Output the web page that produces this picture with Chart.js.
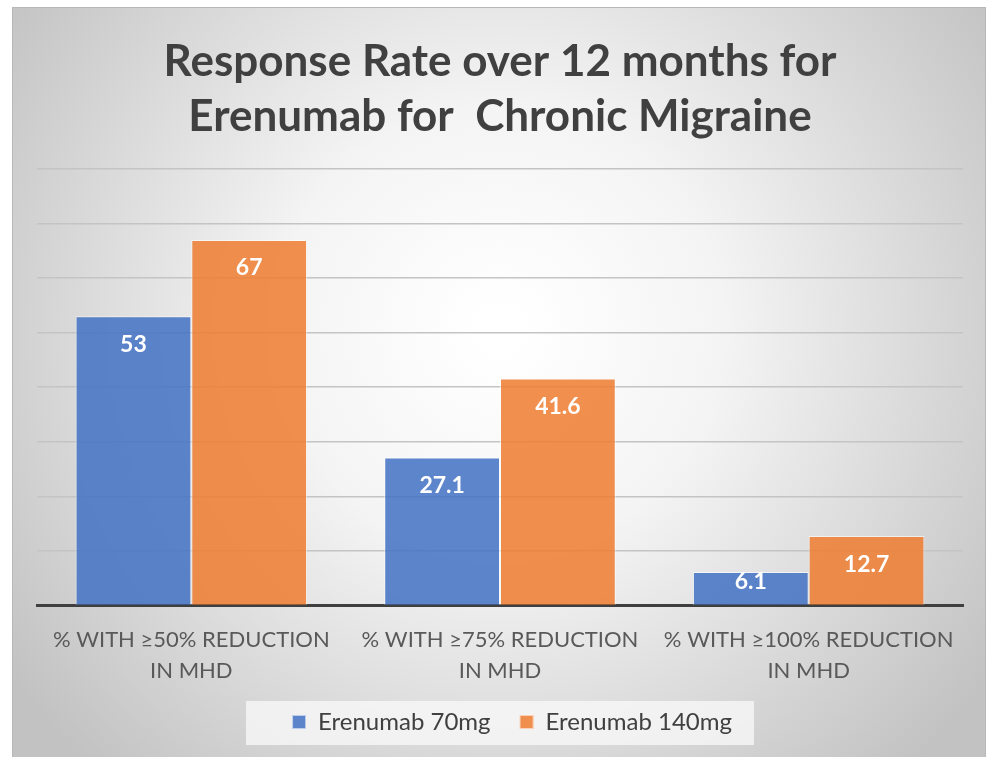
<!DOCTYPE html>
<html>
<head>
<meta charset="utf-8">
<script src="https://cdn.jsdelivr.net/npm/chart.js@4.4.0/dist/chart.umd.min.js"></script>
<style>
  html, body { margin: 0; padding: 0; background: #fff; }
  #wrap { width: 990px; height: 757px; }
</style>
</head>
<body>
<div id="wrap"><canvas id="myChart" width="990" height="757"></canvas></div>
<script>
var categories = [
    ['% WITH \u226550% REDUCTION', 'IN MHD'],
    ['% WITH \u226575% REDUCTION', 'IN MHD'],
    ['% WITH \u2265100% REDUCTION', 'IN MHD']
];
var seriesNames = ['Erenumab 70mg', 'Erenumab 140mg'];
var dose70 = [53, 27.1, 6.1];
var dose140 = [67, 41.6, 12.7];

var blue = 'rgba(68,114,196,0.86)';
var orange = 'rgba(237,125,49,0.86)';

var ctx = document.getElementById('myChart').getContext('2d');

// legend swatch with some empty room on its left, so the items sit further apart
var gap = 24;
function swatch(color) {
    var cv = document.createElement('canvas');
    cv.width = 14 + gap;
    cv.height = 14;
    var c = cv.getContext('2d');
    c.fillStyle = color;
    c.fillRect(gap, 0, 14, 14);
    c.strokeStyle = 'rgba(255,255,255,0.6)';
    c.strokeRect(gap + 0.5, 0.5, 13, 13);
    return cv;
}

// frame with the grey radial background
var backdrop = {
    id: 'backdrop',
    beforeDraw: function(chart) {
        var c = chart.ctx;
        c.save();
        c.fillStyle = '#ffffff';
        c.fillRect(0, 0, chart.width, chart.height);
        var g = c.createRadialGradient(500, 330, 20, 500, 330, 600);
        g.addColorStop(0, '#ffffff');
        g.addColorStop(0.35, '#f4f4f4');
        g.addColorStop(1, '#c2c2c2');
        c.fillStyle = g;
        c.fillRect(12, 7, 974, 750);
        c.strokeStyle = '#b8b8b8';
        c.lineWidth = 1;
        c.strokeRect(12.5, 7.5, 973, 760);

        // legend background box
        var boxes = chart.legend.legendHitBoxes;
        if (boxes && boxes.length) {
            var last = boxes[boxes.length - 1];
            var l = boxes[0].left + gap, r = last.left + last.width;
            var mid = boxes[0].top + 12;
            c.fillStyle = 'rgba(250,250,250,0.75)';
            c.fillRect(l - 46, mid - 21, (r - l) + 68, 44);
        }
        c.restore();
    }
};

// labels inside the bar tops
var barLabels = {
    id: 'barLabels',
    afterDatasetsDraw: function(chart) {
        var c = chart.ctx;
        c.save();
        c.font = 'bold 23px Lato';
        c.fillStyle = '#ffffff';
        c.textAlign = 'center';
        c.textBaseline = 'middle';
        chart.data.datasets.forEach(function(ds, i) {
            var meta = chart.getDatasetMeta(i);
            meta.data.forEach(function(bar, j) {
                var y = Math.min(bar.y + 28, bar.base - 23);
                c.fillText(String(ds.data[j]), bar.x, y);
            });
        });
        c.restore();
    }
};

new Chart(ctx, {
    type: 'bar',
    data: {
        labels: categories,
        datasets: [{
            label: seriesNames[0],
            data: dose70,
            backgroundColor: blue,
            borderColor: 'rgba(255,255,255,0.6)',
            borderWidth: 1,
            pointStyle: swatch(blue)
        }, {
            label: seriesNames[1],
            data: dose140,
            backgroundColor: orange,
            borderColor: 'rgba(255,255,255,0.6)',
            borderWidth: 1,
            pointStyle: swatch(orange)
        }]
    },
    options: {
        responsive: false,
        animation: false,
        layout: { padding: { left: 37, right: 27, top: 7, bottom: 13 } },
        datasets: { bar: { categoryPercentage: 0.75, barPercentage: 1.0 } },
        scales: {
            x: {
                grid: { display: false, drawTicks: false },
                border: { display: true, color: '#3f3f3f', width: 3 },
                ticks: {
                    color: '#595959',
                    font: { family: 'Lato', size: 22, lineHeight: 1.4 },
                    padding: 19,
                    maxRotation: 0
                }
            },
            y: {
                min: 0,
                max: 80,
                ticks: { display: false, stepSize: 10 },
                grid: { color: '#c4c4c4', lineWidth: 1.5, drawTicks: false },
                border: { display: false }
            }
        },
        plugins: {
            title: {
                display: true,
                text: ['Response Rate over 12 months for', 'Erenumab for  Chronic Migraine'],
                color: '#404040',
                font: { family: 'Lato', size: 44, weight: 'bold', lineHeight: 1.25 },
                padding: { top: 27, bottom: 25 }
            },
            legend: {
                position: 'bottom',
                labels: {
                    color: '#404040',
                    font: { family: 'Lato', size: 24 },
                    usePointStyle: true,
                    pointStyleWidth: 14 + gap,
                    boxHeight: 14,
                    padding: 5
                }
            },
            tooltip: { enabled: false }
        }
    },
    plugins: [backdrop, barLabels]
});
</script>
</body>
</html>
